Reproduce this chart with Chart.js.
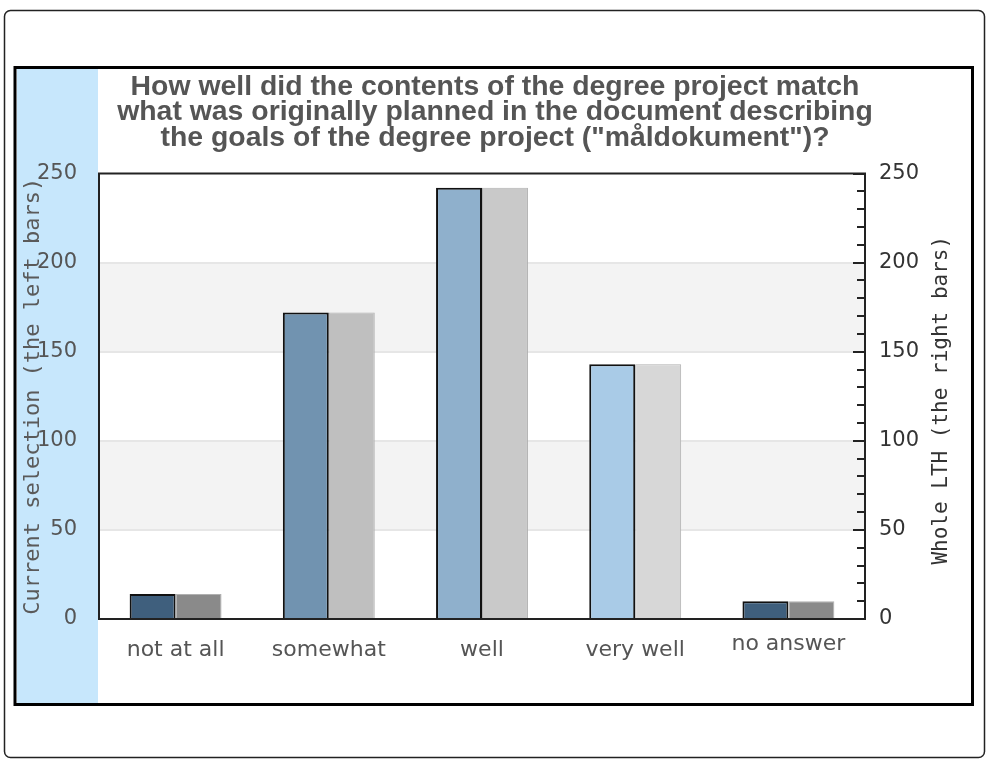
<!DOCTYPE html>
<html>
<head>
<meta charset="utf-8">
<script src="https://cdn.jsdelivr.net/npm/chart.js@4/dist/chart.umd.min.js"></script>
<style>
  html, body { margin: 0; padding: 0; background: #fff; }
  #c { display: block; }
</style>
</head>
<body>
<canvas id="c" width="990" height="767"></canvas>
<script>
// ---- data ----
const categories = ["not at all", "somewhat", "well", "very well", "no answer"];
const currentSelection = [14, 172, 242, 143, 10];
const wholeLTH = [14, 172, 242, 143, 10];
const yTicks = [0, 50, 100, 150, 200, 250];
const titleLines = [
  "How well did the contents of the degree project match",
  "what was originally planned in the document describing",
  "the goals of the degree project (\"måldokument\")?"
];
const leftAxisTitle = "Current selection (the left bars)";
const rightAxisTitle = "Whole LTH (the right bars)";

// ---- styles ----
const leftColors = ["#3f5f7d", "#7193b0", "#8fb0cc", "#a9cbe7", "#3f5f7d"];
const rightColors = ["#8a8a8a", "#bfbfbf", "#c9c9c9", "#d7d7d7", "#8a8a8a"];

// fit title font so first line is ~730px wide
const mctx = document.createElement('canvas').getContext('2d');
mctx.font = 'bold 100px "Liberation Sans"';
const titleSize = Math.round(100 * 730 / mctx.measureText(titleLines[0]).width * 10) / 10;

const decor = {
  id: 'decor',
  beforeDraw(chart) {
    const { ctx, scales } = chart;
    ctx.save();
    ctx.fillStyle = '#fff';
    ctx.fillRect(0, 0, chart.width, chart.height);
    // outer rounded frame
    ctx.strokeStyle = '#222';
    ctx.lineWidth = 1.5;
    ctx.beginPath();
    ctx.roundRect(4.5, 10.5, 980, 747, 6);
    ctx.stroke();
    // light blue strip
    ctx.fillStyle = '#c7e7fc';
    ctx.fillRect(17, 69, 81, 634);
    // inner frame
    ctx.strokeStyle = '#000';
    ctx.lineWidth = 3;
    ctx.strokeRect(15, 67.5, 957.5, 637);
    // alternating bands
    const y = scales.y, a = chart.chartArea;
    ctx.fillStyle = '#f3f3f3';
    for (let i = 1; i < yTicks.length - 1; i += 2) {
      const y1 = y.getPixelForValue(yTicks[i + 1]);
      const y0 = y.getPixelForValue(yTicks[i]);
      ctx.fillRect(a.left, y1, a.right - a.left, y0 - y1);
    }
    ctx.restore();
  },
  afterDatasetsDraw(chart) {
    const { ctx, chartArea: a, scales } = chart;
    ctx.save();
    ctx.strokeStyle = '#222';
    ctx.lineWidth = 2;
    ctx.strokeRect(a.left, a.top, a.right - a.left, a.bottom - a.top);
    // right axis inward tick marks
    const r = scales.y2;
    ctx.beginPath();
    r.ticks.forEach(t => {
      const py = Math.round(r.getPixelForValue(t.value));
      const len = (t.value % 50 === 0) ? 12 : 8;
      ctx.moveTo(a.right - len, py);
      ctx.lineTo(a.right, py);
    });
    ctx.stroke();
    ctx.restore();
  },
  afterDraw(chart) {
    const { ctx, chartArea: a } = chart;
    ctx.save();
    ctx.translate(942, (a.top + a.bottom) / 2 + 4);
    ctx.rotate(-Math.PI / 2);
    ctx.font = '21px "DejaVu Sans Mono"';
    ctx.fillStyle = '#333';
    ctx.textAlign = 'center';
    ctx.textBaseline = 'middle';
    ctx.fillText(rightAxisTitle, 0, 0);
    ctx.restore();
  }
};

new Chart(document.getElementById('c'), {
  type: 'bar',
  data: {
    labels: categories,
    datasets: [
      {
        label: 'Current selection',
        data: currentSelection,
        yAxisID: 'y',
        backgroundColor: leftColors,
        borderColor: '#111',
        borderWidth: 2,
        borderSkipped: 'bottom',
        categoryPercentage: 0.6,
        barPercentage: 1.0
      },
      {
        label: 'Whole LTH',
        data: wholeLTH,
        yAxisID: 'y2',
        backgroundColor: rightColors,
        borderColor: '#b0b0b0',
        borderWidth: 1,
        borderSkipped: 'bottom',
        categoryPercentage: 0.6,
        barPercentage: 1.0
      }
    ]
  },
  options: {
    responsive: false,
    animation: false,
    devicePixelRatio: 1,
    layout: { padding: { top: 0, left: 0, right: 0, bottom: 88 } },
    plugins: {
      legend: { display: false },
      tooltip: { enabled: false },
      title: {
        display: true,
        text: titleLines,
        color: '#555',
        font: { family: '"Liberation Sans", Arial, sans-serif', weight: 'bold', size: titleSize, lineHeight: 25.5 / titleSize },
        padding: { top: 74, bottom: 23 }
      }
    },
    scales: {
      x: {
        grid: { display: false },
        border: { display: false },
        ticks: {
          color: '#555',
          padding: 10,
          autoSkip: false,
          maxRotation: 0,
          font: (c) => ({
            family: '"DejaVu Sans", sans-serif',
            size: 22,
            lineHeight: categories[c.index] === 'no answer' ? 14 / 22 : 1.2
          })
        },
        afterFit: (s) => { s.height = 60; }
      },
      y: {
        position: 'left',
        min: 0, max: 250,
        grid: {
          drawTicks: false,
          lineWidth: 2,
          color: (c) => (c.tick && (c.tick.value === 0 || c.tick.value === 250)) ? 'rgba(0,0,0,0)' : '#e6e6e6'
        },
        border: { display: false },
        ticks: {
          stepSize: 50,
          padding: 22,
          color: '#555',
          font: { family: '"DejaVu Sans", sans-serif', size: 21 }
        },
        title: {
          display: true,
          text: leftAxisTitle,
          color: '#5a5a5a',
          font: { family: '"DejaVu Sans Mono", monospace', size: 22, lineHeight: 24 / 22 },
          padding: { top: 21, bottom: 0 }
        },
        afterFit: (s) => { s.width = 99; }
      },
      y2: {
        position: 'right',
        min: 0, max: 250,
        grid: { drawOnChartArea: false, drawTicks: false },
        border: { display: false },
        ticks: {
          stepSize: 10,
          autoSkip: false,
          padding: 14,
          color: '#333',
          font: { family: '"DejaVu Sans", sans-serif', size: 21 },
          callback: (v) => (v % 50 === 0 ? String(v) : '')
        },
        afterFit: (s) => { s.width = 125; }
      }
    }
  },
  plugins: [decor]
});
</script>
</body>
</html>
